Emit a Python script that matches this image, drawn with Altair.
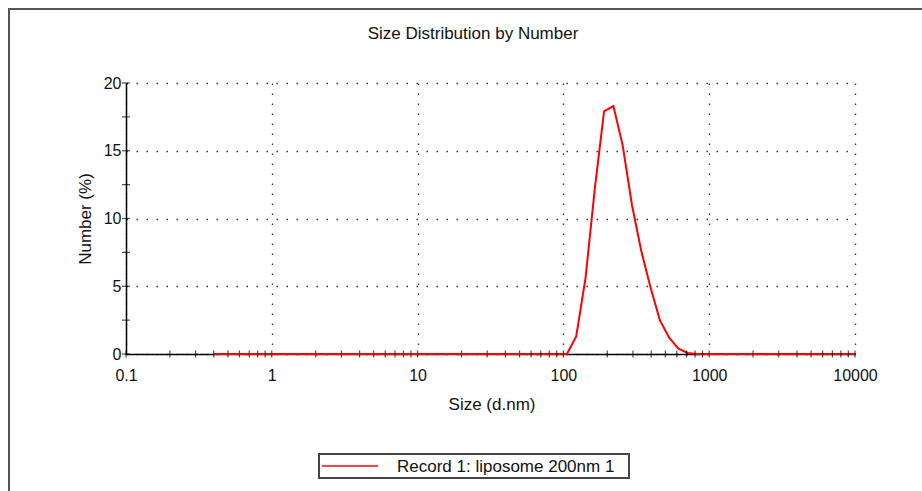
import altair as alt
import pandas as pd

# Size bins (d.nm) and Number (%) values
sizes = [0.4, 0.4632, 0.5365, 0.6213, 0.7195, 0.8332, 0.9649, 1.117, 1.294, 1.499,
         1.736, 2.01, 2.328, 2.696, 3.122, 3.615, 4.187, 4.849, 5.615, 6.503,
         7.531, 8.721, 10.1, 11.7, 13.54, 15.69, 18.17, 21.04, 24.36, 28.21,
         32.67, 37.84, 43.82, 50.75, 58.77, 68.06, 78.82, 91.28, 105.7, 122.4,
         141.8, 164.2, 190.1, 220.2, 255.0, 295.3, 342.0, 396.1, 458.7, 531.2,
         615.1, 712.4, 825.0, 955.4, 1106, 1281, 1484, 1718, 1990, 2305,
         2669, 3091, 3580, 4145, 4801, 5560, 6439, 7456, 8635, 10000]
number_pct = [0, 0, 0, 0, 0, 0, 0, 0, 0, 0,
              0, 0, 0, 0, 0, 0, 0, 0, 0, 0,
              0, 0, 0, 0, 0, 0, 0, 0, 0, 0,
              0, 0, 0, 0, 0, 0, 0, 0, 0.0, 1.3,
              5.6, 12.2, 17.9, 18.3, 15.4, 11.0, 7.6, 4.9, 2.5, 1.2,
              0.4, 0.08, 0, 0, 0, 0, 0, 0, 0, 0,
              0, 0, 0, 0, 0, 0, 0, 0, 0, 0]
series_name = "Record 1: liposome 200nm 1"

x_major = [0.1, 1, 10, 100, 1000, 10000]
x_ticks = [0.1, 0.2, 0.3, 0.4, 0.5, 0.6, 0.7, 0.8, 0.9,
           1, 2, 3, 4, 5, 6, 7, 8, 9,
           10, 20, 30, 40, 50, 60, 70, 80, 90,
           100, 200, 300, 400, 500, 600, 700, 800, 900,
           1000, 2000, 3000, 4000, 5000, 6000, 7000, 8000, 9000, 10000]
y_major = [0, 5, 10, 15, 20]
y_ticks = [0, 2.5, 5, 7.5, 10, 12.5, 15, 17.5, 20]

FONT = "Liberation Sans"
W, H = 729, 271

df = pd.DataFrame({"size": sizes, "pct": number_pct})
xt = pd.DataFrame({"size": x_ticks, "zero": [0] * len(x_ticks)})
yt = pd.DataFrame({"pct": y_ticks, "left": [0.1] * len(y_ticks)})
one = pd.DataFrame({"a": [0]})

xscale = alt.Scale(type="log", domain=[0.1, 10000], nice=False)
yscale = alt.Scale(domain=[0, 20], nice=False, zero=True)

xaxis = alt.Axis(values=x_major, labelExpr="format(datum.value, '~g')", ticks=False,
                 grid=True, gridDash=[1.5, 8.5], gridColor="#333", gridWidth=1.3,
                 domainColor="#000", domainWidth=1.5, labelFont=FONT, labelFontSize=16,
                 labelColor="#111", labelPadding=13, labelFlush=False,
                 title="Size (d.nm)", titleFont=FONT, titleFontSize=17, titleFontWeight="normal",
                 titleColor="#111", titleBaseline="alphabetic", titleX=W / 2 + 1, titleY=55,
                 zindex=0)
yaxis = alt.Axis(values=y_major, ticks=False, grid=True, gridDash=[1.5, 8.5], gridColor="#333",
                 gridWidth=1.3, domainColor="#000", domainWidth=1.5, labelFont=FONT,
                 labelFontSize=16, labelColor="#111", labelPadding=5, labelFlush=False,
                 title="Number (%)", titleFont=FONT, titleFontSize=17, titleFontWeight="normal",
                 titleColor="#111", titleAngle=270, titleAlign="center", titleBaseline="middle",
                 titleX=-41, titleY=H / 2, zindex=0)

frame = alt.Chart(one).mark_rect(fill="transparent", stroke="#555", strokeWidth=2).encode(
    x=alt.value(-117), x2=alt.value(820), y=alt.value(-74), y2=alt.value(430))

title = alt.Chart(one).mark_text(text="Size Distribution by Number", font=FONT, fontSize=17,
                                  color="#111", align="center", baseline="alphabetic").encode(
    x=alt.value(347), y=alt.value(-44))

line = alt.Chart(df).mark_line(color="#ff0000", strokeWidth=2).encode(
    x=alt.X("size:Q", scale=xscale, axis=xaxis),
    y=alt.Y("pct:Q", scale=yscale, axis=yaxis),
)

xtick_marks = alt.Chart(xt).mark_tick(color="#000", orient="vertical", size=7, thickness=1.2).encode(
    x=alt.X("size:Q", scale=xscale),
    y=alt.Y("zero:Q", scale=yscale),
)
ytick_marks = alt.Chart(yt).mark_tick(color="#000", orient="horizontal", size=8, thickness=1.2).encode(
    x=alt.X("left:Q", scale=xscale),
    y=alt.Y("pct:Q", scale=yscale),
)

# Legend box (drawn by hand so the swatch can be a long line in a short box)
legend_box = alt.Chart(one).mark_rect(fill="white", stroke="#444", strokeWidth=2).encode(
    x=alt.value(193), x2=alt.value(503), y=alt.value(371), y2=alt.value(395))
legend_swatch = alt.Chart(one).mark_rule(color="#ff0000", strokeWidth=1.5).encode(
    x=alt.value(196), x2=alt.value(252), y=alt.value(383))
legend_label = alt.Chart(one).mark_text(text=series_name, font=FONT, fontSize=17, color="#111",
                                         align="left", baseline="middle").encode(
    x=alt.value(271), y=alt.value(384))

chart = alt.layer(frame, title, line, xtick_marks, ytick_marks,
                  legend_box, legend_swatch, legend_label).properties(
    width=W, height=H,
    autosize=alt.AutoSizeParams(type="none"),
    padding={"left": 126, "top": 83, "right": 67, "bottom": 137},
    background="white",
).configure_view(stroke="transparent")

chart.save("out.html", embed_options={"renderer": "svg", "actions": False})
